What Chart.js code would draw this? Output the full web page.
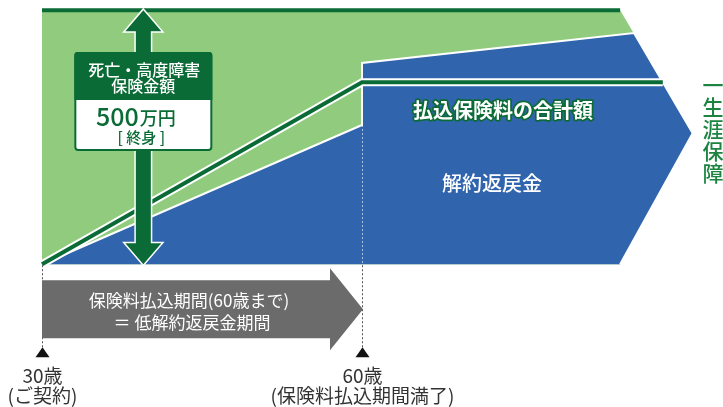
<!DOCTYPE html>
<html><head><meta charset="utf-8">
<script src="https://cdn.jsdelivr.net/npm/chart.js@4.4.1/dist/chart.umd.min.js"></script>
<style>html,body{margin:0;padding:0;background:#fff;overflow:hidden}canvas{display:block}</style>
</head><body>
<canvas id="c" width="723" height="407"></canvas>
<script>
// ---- data (ages in years, amounts in 万円) ----
const milestoneAges = [30, 60];
const milestoneLabels = ['30歳', '60歳'];
const milestoneNotes = ['(ご契約)', '(保険料払込期間満了)'];

// death / severe-disability benefit area (outline of the big arrow)
const deathAreaAges = [30, 30, 84.2, 91, 84.2];
const deathAreaValues = [0, 500, 500, 258, 0];
// benefit level line (500万円, whole life)
const deathLineAges = [30, 84.2];
const deathLineValues = [500, 500];

// surrender value area
const surrenderAges = [30, 60, 60, 85.5, 91, 84.2];
const surrenderValues = [0, 274, 396, 455, 258, 0];

// total premiums paid
const premiumAges = [30, 60, 88.2];
const premiumValues = [0, 358, 358];

const benefitArrowAge = 39.5;
const benefitAmount = 500;
const paymentPeriod = [30, 60];

const boxTitle = ['死亡・高度障害', '保険金額'];
const boxAmount = '500';
const boxUnit = '万円';
const boxTerm = '[ 終身 ]';
const premiumLabel = '払込保険料の合計額';
const surrenderLabel = '解約返戻金';
const periodLabel = ['保険料払込期間(60歳まで)', '＝ 低解約返戻金期間'];
const sideLabel = ['一', '生', '涯', '保', '障'];

// ---- styles ----
const C_LIGHT = '#91cc7e';
const C_DARK = '#0b6b36';
const C_BLUE = '#3064ad';
const C_GRAY = '#6b6b6b';
const FONT = '"Noto Sans CJK JP", "Noto Sans", sans-serif';

const pts = (xs, ys) => xs.map((v, i) => ({x: v, y: ys[i]}));

const deco = {
  id: 'deco',
  afterDatasetsDraw(chart) {
    const {ctx, scales: {x, y}} = chart;
    const y0 = y.getPixelForValue(0);
    ctx.save();

    // faint dotted line through surrender area at 60
    const x60 = x.getPixelForValue(paymentPeriod[1]);
    ctx.strokeStyle = 'rgba(255,255,255,0.6)';
    ctx.lineWidth = 1;
    ctx.setLineDash([2, 2]);
    ctx.beginPath();
    ctx.moveTo(x60 + 0.5, y.getPixelForValue(274));
    ctx.lineTo(x60 + 0.5, y0);
    ctx.stroke();

    // dotted lines + triangles + milestone labels
    ctx.strokeStyle = '#555';
    milestoneAges.forEach((a, i) => {
      const px = Math.round(x.getPixelForValue(a)) + 0.5;
      ctx.setLineDash([2, 2]);
      ctx.beginPath();
      ctx.moveTo(px, y0 + 1);
      ctx.lineTo(px, y0 + 84);
      ctx.stroke();
      ctx.setLineDash([]);
      ctx.fillStyle = '#111';
      ctx.beginPath();
      ctx.moveTo(px, y0 + 83);
      ctx.lineTo(px + 7, y0 + 93);
      ctx.lineTo(px - 7, y0 + 93);
      ctx.closePath();
      ctx.fill();
      ctx.fillStyle = '#333';
      ctx.textAlign = 'center';
      ctx.textBaseline = 'middle';
      ctx.font = '19px ' + FONT;
      ctx.fillText(milestoneLabels[i], px, y0 + 112);
      ctx.fillText(milestoneNotes[i], px, y0 + 132);
    });

    // gray period arrow
    const gx0 = x.getPixelForValue(paymentPeriod[0]);
    const gx1 = x.getPixelForValue(paymentPeriod[1]) + 1;
    const gc = y0 + 45;
    ctx.fillStyle = C_GRAY;
    ctx.beginPath();
    ctx.moveTo(gx0, gc - 29);
    ctx.lineTo(gx1 - 33, gc - 29);
    ctx.lineTo(gx1 - 33, gc - 41);
    ctx.lineTo(gx1, gc);
    ctx.lineTo(gx1 - 33, gc + 41);
    ctx.lineTo(gx1 - 33, gc + 29);
    ctx.lineTo(gx0, gc + 29);
    ctx.closePath();
    ctx.fill();
    ctx.fillStyle = '#fff';
    ctx.font = '17px ' + FONT;
    ctx.textAlign = 'center';
    ctx.fillText(periodLabel[0], 189, gc - 9);
    ctx.fillText(periodLabel[1], 192, gc + 13);

    // double arrow for death benefit
    const ax = x.getPixelForValue(benefitArrowAge);
    const yt = y.getPixelForValue(benefitAmount);
    const hw = 18, sw = 7.5, hh = 21;
    ctx.beginPath();
    ctx.moveTo(ax, yt);
    ctx.lineTo(ax + hw, yt + hh);
    ctx.lineTo(ax + sw, yt + hh);
    ctx.lineTo(ax + sw, y0 - hh);
    ctx.lineTo(ax + hw, y0 - hh);
    ctx.lineTo(ax, y0);
    ctx.lineTo(ax - hw, y0 - hh);
    ctx.lineTo(ax - sw, y0 - hh);
    ctx.lineTo(ax - sw, yt + hh);
    ctx.lineTo(ax - hw, yt + hh);
    ctx.closePath();
    ctx.strokeStyle = '#fff';
    ctx.lineWidth = 3;
    ctx.lineJoin = 'miter';
    ctx.stroke();
    ctx.fillStyle = C_DARK;
    ctx.fill();

    // box
    const bx = ax - 68, bw = 136, by = 53, bh = 97, hdr = 47;
    ctx.fillStyle = '#fff';
    ctx.strokeStyle = C_DARK;
    ctx.lineWidth = 2;
    ctx.beginPath();
    ctx.roundRect(bx, by, bw, bh, 3);
    ctx.fill();
    ctx.stroke();
    ctx.fillStyle = C_DARK;
    ctx.beginPath();
    ctx.roundRect(bx - 1, by - 1, bw + 2, hdr + 1, [3, 3, 0, 0]);
    ctx.fill();
    ctx.fillStyle = '#fff';
    ctx.font = '500 16px ' + FONT;
    ctx.textAlign = 'center';
    ctx.fillText(boxTitle[0], ax + 1, 70);
    ctx.fillText(boxTitle[1], ax, 86);
    ctx.fillStyle = C_DARK;
    ctx.font = '500 25px ' + FONT;
    const wA = ctx.measureText(boxAmount).width;
    ctx.font = '500 18px ' + FONT;
    const wU = ctx.measureText(boxUnit).width;
    const sx = ax - 8 - (wA + wU) / 2;
    ctx.textAlign = 'left';
    ctx.font = '500 25px ' + FONT;
    ctx.fillText(boxAmount, sx, 116);
    ctx.font = '500 18px ' + FONT;
    ctx.fillText(boxUnit, sx + wA + 1, 118);
    ctx.textAlign = 'center';
    ctx.font = '500 15px ' + FONT;
    ctx.fillText(boxTerm, ax - 2, 137);

    // area labels
    ctx.font = 'bold 20px ' + FONT;
    ctx.lineJoin = 'round';
    ctx.lineWidth = 3.5;
    ctx.strokeStyle = C_DARK;
    ctx.strokeText(premiumLabel, 503, 110);
    ctx.fillStyle = '#fff';
    ctx.fillText(premiumLabel, 503, 110);
    ctx.font = '500 20px ' + FONT;
    ctx.fillText(surrenderLabel, 492, 183);

    // side label
    ctx.fillStyle = '#1c8440';
    ctx.font = '500 21px ' + FONT;
    sideLabel.forEach((ch, i) => ctx.fillText(ch, 713, 85 + i * 22));

    ctx.restore();
  }
};

new Chart(document.getElementById('c'), {
  type: 'line',
  data: {
    datasets: [
      {label: 'premiumsInner', data: pts(premiumAges, premiumValues), borderColor: C_DARK, borderWidth: 4, fill: false, order: 1},
      {label: 'premiumsOuter', data: pts(premiumAges, premiumValues), borderColor: '#fff', borderWidth: 8, fill: false, order: 2},
      {label: 'deathLine', data: pts(deathLineAges, deathLineValues), borderColor: C_DARK, borderWidth: 4, fill: false, order: 3},
      {label: 'surrender', data: pts(surrenderAges, surrenderValues), borderColor: '#fff', borderWidth: 2, backgroundColor: C_BLUE, fill: 'shape', order: 4},
      {label: 'death', data: pts(deathAreaAges, deathAreaValues), borderColor: C_LIGHT, borderWidth: 0, backgroundColor: C_LIGHT, fill: 'shape', order: 5}
    ]
  },
  options: {
    responsive: false,
    animation: false,
    devicePixelRatio: 1,
    layout: {padding: {left: 10, right: 9, top: 0, bottom: 0}},
    elements: {point: {radius: 0, hoverRadius: 0}, line: {tension: 0, borderCapStyle: 'butt', borderJoinStyle: 'miter'}},
    plugins: {legend: {display: false}, tooltip: {enabled: false}},
    events: [],
    scales: {
      x: {type: 'linear', min: 27, max: 93, display: false},
      y: {type: 'linear', min: -281, max: 520, display: false}
    }
  },
  plugins: [deco]
});
</script>
</body></html>
